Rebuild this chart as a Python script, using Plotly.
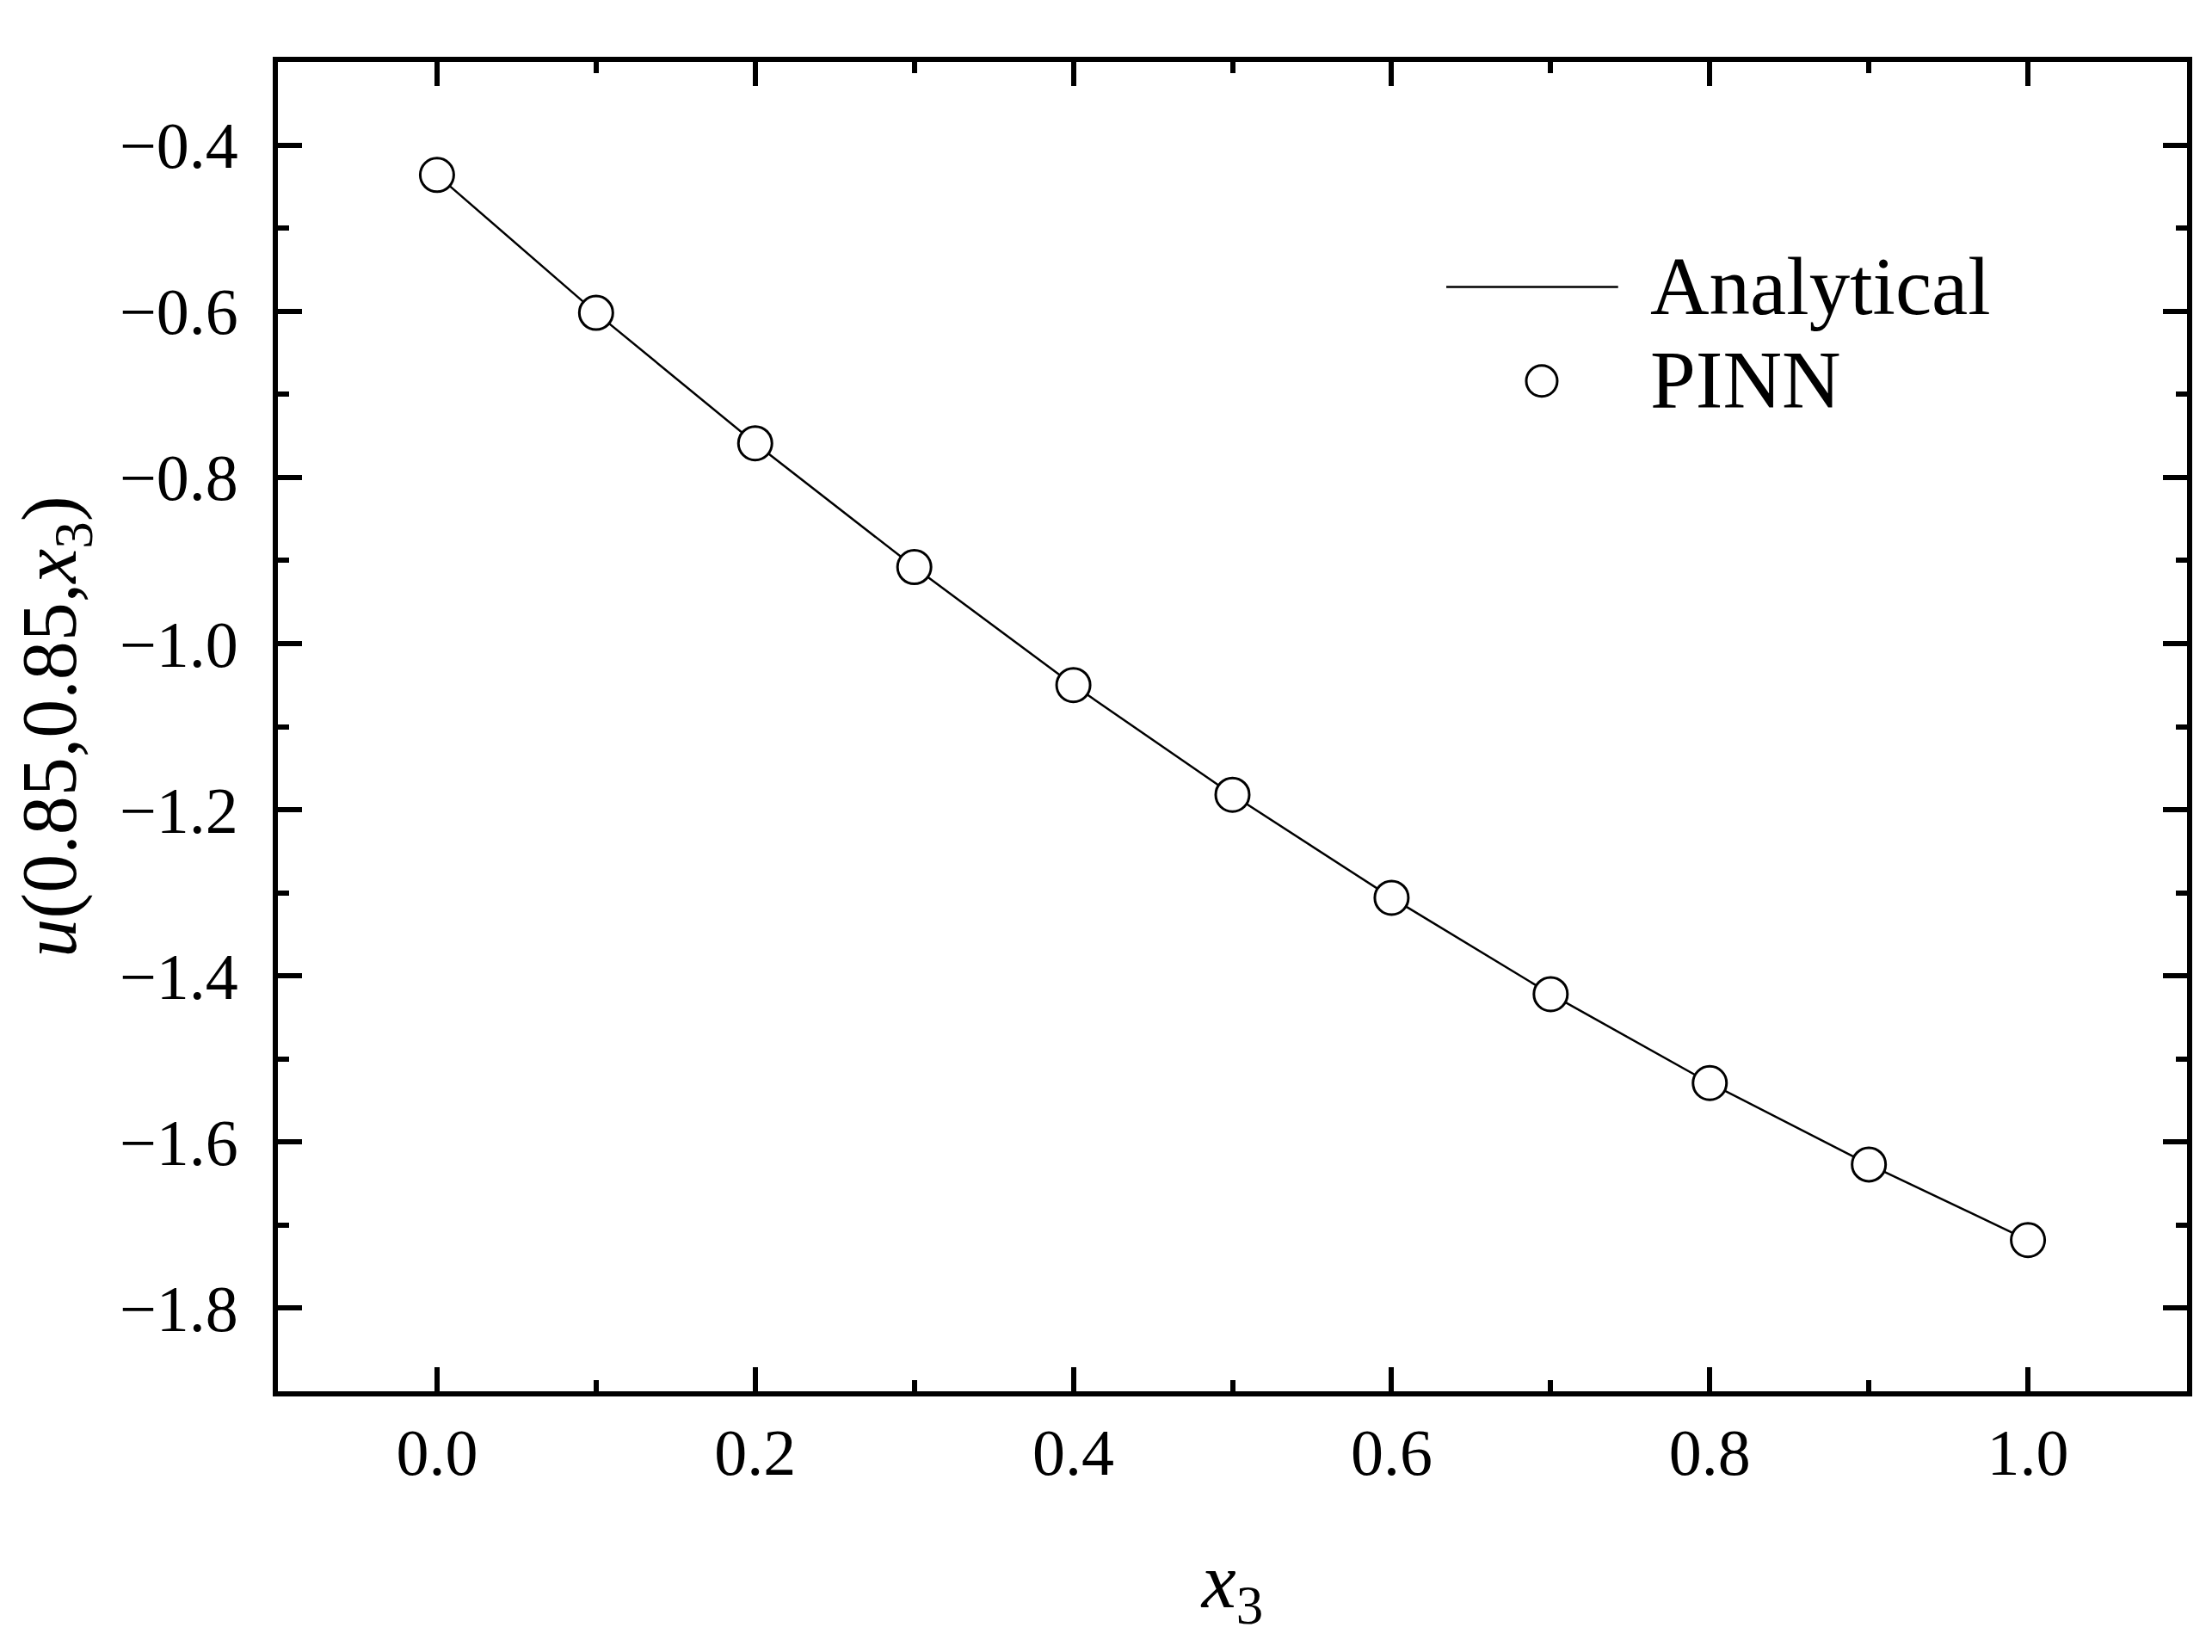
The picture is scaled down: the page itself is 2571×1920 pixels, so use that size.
import plotly.graph_objects as go

# x3 sample points and the two curves
x3 = [0.0, 0.1, 0.2, 0.3, 0.4, 0.5, 0.6, 0.7, 0.8, 0.9, 1.0]
analytical = [-0.436, -0.602, -0.759, -0.908, -1.050, -1.182, -1.306, -1.422, -1.529, -1.627, -1.718]
pinn = [-0.436, -0.602, -0.759, -0.908, -1.050, -1.182, -1.306, -1.422, -1.529, -1.627, -1.718]

x_ticks = [0.0, 0.2, 0.4, 0.6, 0.8, 1.0]
y_ticks = [-1.8, -1.6, -1.4, -1.2, -1.0, -0.8, -0.6, -0.4]

serif = "Liberation Serif"

fig = go.Figure()
fig.add_trace(go.Scatter(x=x3, y=analytical, mode="lines", name="Analytical",
                         line=dict(color="black", width=2.5), showlegend=False))
fig.add_trace(go.Scatter(x=x3, y=pinn, mode="markers", name="PINN",
                         marker=dict(symbol="circle", size=39, color="white",
                                     line=dict(color="black", width=3)),
                         showlegend=False))

axis_common = dict(
    showline=True, linecolor="black", linewidth=6, mirror="allticks",
    ticks="inside", ticklen=28, tickwidth=6, tickcolor="black",
    showgrid=False, zeroline=False,
    tickfont=dict(family=serif, size=76, color="black"),
)

fig.update_xaxes(
    range=[-0.1, 1.1], tickvals=x_ticks, tickformat=".1f",
    minor=dict(dtick=0.1, ticks="inside", ticklen=13, tickwidth=6, tickcolor="black", showgrid=False),
    title=dict(text="<i>x</i><sub>3</sub>", font=dict(family=serif, size=90, color="black"), standoff=78),
    ticklabelstandoff=0,
    **axis_common,
)
fig.update_yaxes(
    range=[-1.9, -0.3], tickvals=y_ticks, tickformat=".1f",
    minor=dict(dtick=0.1, tick0=-0.3, ticks="inside", ticklen=13, tickwidth=6, tickcolor="black", showgrid=False),
    title=dict(text="<i>u</i>(0.85,0.85,<i>x</i><sub>3</sub>)", font=dict(family=serif, size=90, color="black"),
               standoff=48),
    ticklabelstandoff=25,
    **axis_common,
)

# hand-made legend (long line sample like the original)
fig.add_shape(type="line", xref="paper", yref="paper", x0=0.6120, x1=0.7020, y0=0.8308, y1=0.8308,
              line=dict(color="black", width=2.5))
fig.add_shape(type="circle", xref="paper", yref="paper", xsizemode="pixel", ysizemode="pixel",
              xanchor=0.662, yanchor=0.7600, x0=-18, x1=18, y0=-18, y1=18,
              line=dict(color="black", width=3), fillcolor="white")
fig.add_annotation(text="Analytical", xref="paper", yref="paper", x=0.7177, y=0.8308,
                   xanchor="left", yanchor="middle", showarrow=False,
                   font=dict(family=serif, size=95, color="black"))
fig.add_annotation(text="PINN", xref="paper", yref="paper", x=0.7177, y=0.7603,
                   xanchor="left", yanchor="middle", showarrow=False,
                   font=dict(family=serif, size=95, color="black"))

# the page body adds an 8px offset, so margins are shifted to keep the frame in place
fig.update_layout(
    width=2571, height=1920,
    margin=dict(l=315, r=37, t=64, b=311),
    plot_bgcolor="white", paper_bgcolor="white",
    showlegend=False,
)

fig.write_html("out.html")
